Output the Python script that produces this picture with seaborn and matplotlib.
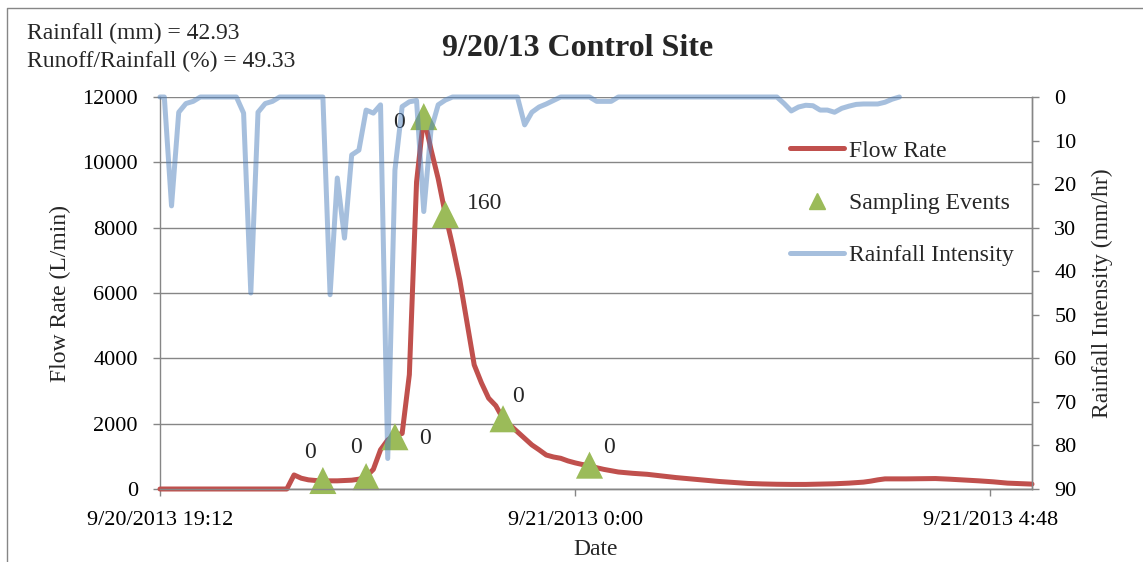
import pandas as pd
import matplotlib.pyplot as plt
import seaborn as sns
from matplotlib.lines import Line2D

# Flow rate (L/min)
flow_times = ["19:12", "20:40", "20:45", "20:50", "20:55", "21:00", "21:05", "21:10",
              "21:15", "21:20", "21:25", "21:30", "21:35", "21:40", "21:45", "21:50",
              "21:55", "22:00", "22:05", "22:10", "22:15", "22:20", "22:25", "22:30",
              "22:35", "22:40", "22:45", "22:50", "22:55", "23:00", "23:05", "23:10",
              "23:15", "23:20", "23:25", "23:30", "23:35", "23:40", "23:45", "23:50",
              "23:55", "00:00", "00:05", "00:10", "00:15", "00:20", "00:25", "00:30",
              "00:40", "00:50", "01:00", "01:10", "01:20", "01:30", "01:40", "01:50",
              "02:00", "02:10", "02:20", "02:30", "02:40", "02:50", "03:00", "03:10",
              "03:20", "03:25", "03:30", "03:35", "03:50", "04:10", "04:20", "04:40",
              "04:50", "05:00", "05:17"]
flow_values = [0, 0, 430, 330, 280, 260, 250, 250,
               250, 260, 270, 300, 380, 600, 1200, 1500,
               1650, 1700, 3500, 9400, 11400, 10400, 9500, 8400,
               7450, 6400, 5100, 3800, 3250, 2780, 2550, 2150,
               1950, 1750, 1550, 1350, 1200, 1040, 980, 940,
               860, 800, 750, 720, 650, 600, 560, 520,
               480, 450, 400, 350, 310, 270, 230, 200,
               170, 155, 145, 140, 140, 150, 160, 180,
               210, 240, 280, 310, 310, 320, 300, 250,
               220, 180, 150]

# Rainfall intensity (mm/hr)
rain_times = ["19:12", "19:15", "19:20", "19:25", "19:30", "19:35", "19:40", "20:05",
              "20:10", "20:15", "20:20", "20:25", "20:30", "20:35", "21:05", "21:10",
              "21:15", "21:20", "21:25", "21:30", "21:35", "21:40", "21:45", "21:50",
              "21:55", "22:00", "22:05", "22:10", "22:15", "22:20", "22:25", "22:30",
              "22:35", "23:20", "23:25", "23:30", "23:35", "23:40", "23:45", "23:50",
              "00:10", "00:15", "00:20", "00:25", "00:30", "02:20", "02:25", "02:30",
              "02:35", "02:40", "02:45", "02:50", "02:55", "03:00", "03:05", "03:10",
              "03:15", "03:20", "03:25", "03:30", "03:35", "03:40", "03:45"]
rain_values = [0, 0, 25, 3.5, 1.5, 1, 0, 0,
               3.7, 45, 3.5, 1.5, 1, 0, 0, 45.4,
               18.6, 32.4, 13.3, 12.2, 3, 3.7, 1.8, 83,
               16.8, 2.2, 1.1, 0.8, 26.3, 7.6, 1.8, 0.7,
               0, 0, 6.4, 3.5, 2.3, 1.6, 0.8, 0,
               0, 1, 1, 1, 0, 0, 1.5, 3.2,
               2.3, 1.9, 2.0, 3.0, 3.0, 3.5, 2.6, 2.1,
               1.7, 1.6, 1.6, 1.6, 1.2, 0.5, 0]

# Sampling events
sample_times = ["21:05", "21:35", "21:55", "22:15", "22:30", "23:10", "00:10"]
sample_flow = [260, 380, 1600, 11400, 8400, 2150, 730]
sample_labels = ["0", "0", "0", "0", "160", "0", "0"]
label_offsets = [(-9, 20), (-7, 21), (22, -1), (-18, -4), (28, 8), (11, 16), (14, 13)]

xtick_times = ["19:12", "00:00", "04:48"]
xtick_labels = ["9/20/2013 19:12", "9/21/2013 0:00", "9/21/2013 4:48"]


def to_dt(times):
    out = []
    for t in times:
        day = "2013-09-20" if int(t.split(":")[0]) >= 12 else "2013-09-21"
        out.append(pd.Timestamp(day + " " + t))
    return out


flow_df = pd.DataFrame({"time": to_dt(flow_times), "flow": flow_values})
rain_df = pd.DataFrame({"time": to_dt(rain_times), "rain": rain_values})
samp_df = pd.DataFrame({"time": to_dt(sample_times), "flow": sample_flow})

sns.set_style("white")
plt.rcParams['font.family'] = ['Liberation Serif', 'DejaVu Serif']

RED = "#C0504D"
GREEN = "#9BBB59"
BLUE = "#4F81BD"
GRID = "#868686"

fig = plt.figure(figsize=(11.43, 5.62), dpi=100)
ax = fig.add_axes([160 / 1143, 1 - 489 / 562, 872 / 1143, 392 / 562])

sns.lineplot(data=flow_df, x="time", y="flow", ax=ax, color=RED, lw=3.6,
             clip_on=False, zorder=3)
sns.scatterplot(data=samp_df, x="time", y="flow", ax=ax, marker="^", s=380,
                color=GREEN, edgecolor="none", zorder=4, clip_on=False)

for t, v, lab, off in zip(samp_df["time"], sample_flow, sample_labels, label_offsets):
    ax.annotate(lab, (t, v), xytext=off, textcoords="offset points",
                ha="center", va="center", fontsize=17, zorder=5)

ax.set_ylim(0, 12000)
ax.set_yticks(range(0, 12001, 2000))
ax.set_xlim(to_dt(["19:12"])[0], to_dt(["05:17"])[0])
ax.set_xticks(to_dt(xtick_times))
ax.set_xticklabels(xtick_labels)
ax.grid(axis="y", color=GRID, lw=1)
ax.grid(axis="x", visible=False)
ax.set_axisbelow(True)

ax.set_ylabel("Flow Rate (L/min)", fontsize=17, va="center")
ax.yaxis.set_label_coords(-0.1147, 0.5)
ax.set_xlabel("Date", fontsize=17, va="center")
ax.xaxis.set_label_coords(0.5, -0.1556)

ax2 = ax.twinx()
sns.lineplot(data=rain_df, x="time", y="rain", ax=ax2, color=BLUE, alpha=0.5,
             lw=3.6, clip_on=False)
ax2.set_ylim(90, 0)
ax2.set_yticks(range(0, 91, 10))
ax2.set_ylabel("Rainfall Intensity (mm/hr)", fontsize=17, va="center", rotation=90)
ax2.yaxis.set_label_coords(1.081, 0.5)

for a in (ax, ax2):
    a.spines["top"].set_visible(False)
    for s in ("left", "right", "bottom"):
        a.spines[s].set_color(GRID)
        a.spines[s].set_linewidth(1)
    a.tick_params(axis="both", direction="out", length=5, width=1, color=GRID,
                  labelsize=16, labelcolor="black", pad=11)
ax.tick_params(axis="y", left=True, right=False)
ax.tick_params(axis="x", bottom=True)
ax2.tick_params(axis="y", right=True, left=False)
ax2.spines["left"].set_visible(False)

handles = [Line2D([], [], color=RED, lw=3.6),
           Line2D([], [], color=GREEN, marker="^", ls="none", markersize=12),
           Line2D([], [], color=BLUE, alpha=0.5, lw=3.6)]
ax2.legend(handles, ["Flow Rate", "Sampling Events", "Rainfall Intensity"],
           loc="upper left", bbox_to_anchor=(0.7225, 0.89), frameon=False,
           borderpad=0, borderaxespad=0, labelspacing=1.3, handlelength=2.3,
           handletextpad=0.2, fontsize=17)

fig.text(578 / 1143, 1 - 48 / 562, "9/20/13 Control Site", ha="center", va="center",
         fontsize=23, fontweight="bold")
fig.text(27 / 1143, 1 - 33 / 562, "Rainfall (mm) = 42.93", ha="left", va="center", fontsize=17)
fig.text(27 / 1143, 1 - 61 / 562, "Runoff/Rainfall (%) = 49.33", ha="left", va="center", fontsize=17)

fig.add_artist(Line2D([7 / 1143, 7 / 1143, 1], [0, 1 - 8 / 562, 1 - 8 / 562],
                      transform=fig.transFigure, color=GRID, lw=1))

fig.savefig("out.png", dpi=100)
